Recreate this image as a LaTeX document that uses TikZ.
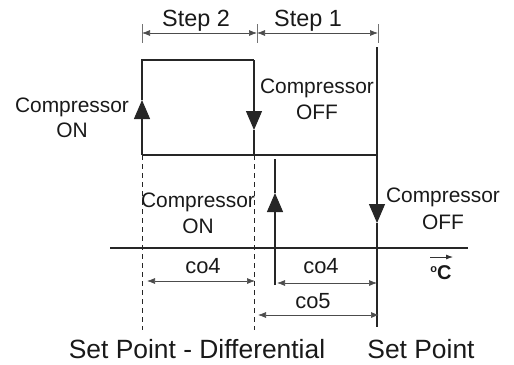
\documentclass[tikz,border=0pt]{standalone}
\usepackage{fontspec}
\setmainfont{Liberation Sans}
\usetikzlibrary{arrows.meta}
\begin{document}
\begin{tikzpicture}[x=1bp,y=-1bp,
  main/.style={line width=1.2bp, draw=black!85},
  dimline/.style={line width=0.7bp, draw=black!70, {Latex[length=8bp,width=6bp]}-{Latex[length=8bp,width=6bp]}},
  tickline/.style={line width=0.7bp, draw=black!55},
  dashln/.style={line width=1bp, draw=black!85, dash pattern=on 5bp off 4bp},
  bigtip/.style={-{Triangle[length=19bp,width=16bp]}},
  lbl/.style={font=\fontsize{21}{25}\selectfont, inner sep=0pt, anchor=base, text=black!90},
  dimlbl/.style={font=\fontsize{22}{26}\selectfont, inner sep=0pt, anchor=base, text=black!90},
  steplbl/.style={font=\fontsize{23.5}{28}\selectfont, inner sep=0pt, anchor=base, text=black!90},
  biglbl/.style={font=\fontsize{26.5}{32}\selectfont, inner sep=0pt, anchor=base, text=black!90}
]
\useasboundingbox (0,0) rectangle (514,364);

% key coordinates
\coordinate (LT) at (142,60);
\coordinate (LB) at (142,155);
\coordinate (LU) at (142,100);
\coordinate (MT) at (254,60);
\coordinate (MD) at (254,130);
\coordinate (MB) at (254,155);
\coordinate (RT) at (377,47);
\coordinate (RD) at (377,223);
\coordinate (RB) at (377,155);
\coordinate (RE) at (377,327);
\coordinate (VT) at (275,159);
\coordinate (VU) at (275,193);
\coordinate (VB) at (275,285);
\coordinate (AL) at (110,248);
\coordinate (AR) at (468,248);

% hysteresis loop
\draw[main,bigtip] (LB) -- (LU);
\draw[main] (LU) -- (LT) -- (MT);
\draw[main,bigtip] (MT) -- (MD);
\draw[main] (MD) -- (MB);
\draw[main] (LB) -- (RB);
\draw[main,bigtip] (RT) -- (RD);
\draw[main] (RD) -- (RE);
\draw[main,bigtip] (VB) -- (VU);
\draw[main] (VU) -- (VT);

% axis
\draw[main] (AL) -- (AR);

% dashed lines
\coordinate (LDE) at (142,330);
\coordinate (MDE) at (254,330);
\draw[dashln] (LB) -- (LDE);
\draw[dashln] (MB) -- (MDE);

% step dimension
\coordinate (S0t) at (142,24); \coordinate (S0b) at (142,43);
\coordinate (S1t) at (257,24); \coordinate (S1b) at (257,43);
\coordinate (S2t) at (378,24); \coordinate (S2b) at (378,43);
\draw[tickline] (S0t) -- (S0b);
\draw[tickline] (S1t) -- (S1b);
\draw[tickline] (S2t) -- (S2b);
\coordinate (SA) at (142,33); \coordinate (SB) at (257,33); \coordinate (SC) at (378,33);
\draw[dimline] (SA) -- (SB);
\draw[dimline] (SB) -- (SC);
\node[steplbl] (st2) at (196,26) {Step 2};
\node[steplbl] (st1) at (308,26) {Step 1};

% co4 / co5 dimensions
\coordinate (C1a) at (147,281); \coordinate (C1b) at (255,281);
\coordinate (C2a) at (277,283); \coordinate (C2b) at (377,283);
\coordinate (C3a) at (258,315); \coordinate (C3b) at (379,315);
\draw[dimline] (C1a) -- (C1b);
\draw[dimline] (C2a) -- (C2b);
\draw[dimline] (C3a) -- (C3b);
\node[dimlbl] (co4a) at (203,273) {co4};
\node[dimlbl] (co4b) at (321,273) {co4};
\node[dimlbl] (co5) at (313,308) {co5};

% degree C
\coordinate (DA) at (430,257); \coordinate (DB) at (453,257);
\draw[line width=0.8bp, draw=black!80, -{Latex[length=7bp,width=5bp]}] (DA) -- (DB);
\node[font=\fontsize{20}{24}\selectfont\bfseries, inner sep=0pt, anchor=base, text=black!90] (degc) at (441,279) {\raisebox{0.35em}{\fontsize{11}{12}\selectfont o}C};

% compressor labels
\node[lbl] (c1a) at (72,112) {Compressor};
\node[lbl] (c1b) at (72,137) {ON};
\node[lbl] (c2a) at (317,93) {Compressor};
\node[lbl] (c2b) at (317,119) {OFF};
\node[lbl] (c3a) at (198,207) {Compressor};
\node[lbl] (c3b) at (198,233) {ON};
\node[lbl] (c4a) at (443,202) {Compressor};
\node[lbl] (c4b) at (443,229) {OFF};

% set point labels
\node[biglbl] (spd) at (197,358) {Set Point - Differential};
\node[biglbl] (sp) at (421,358) {Set Point};
\end{tikzpicture}
\end{document}
